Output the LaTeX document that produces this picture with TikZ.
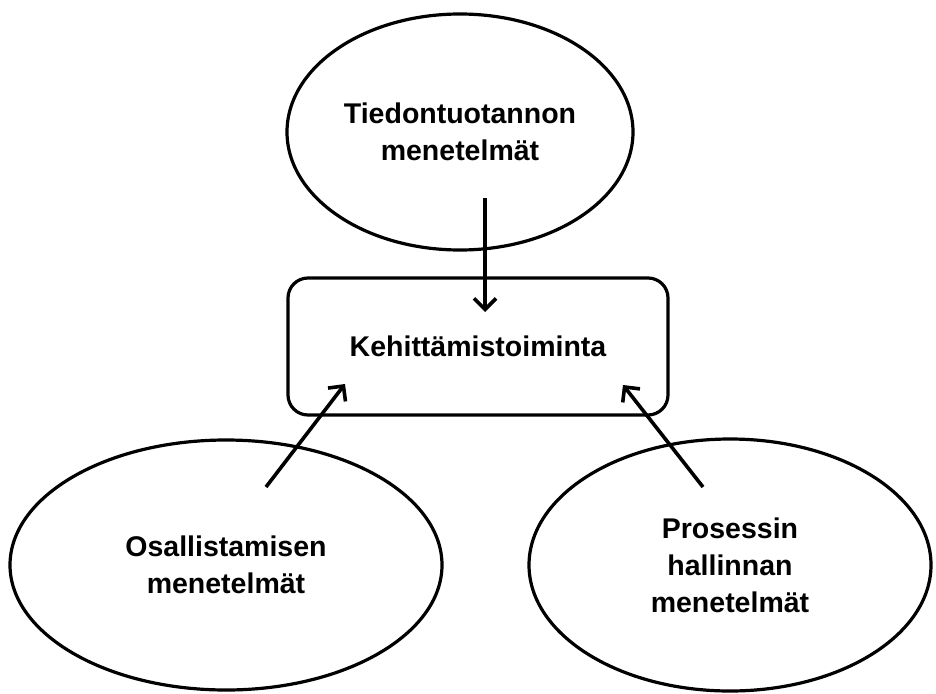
\documentclass[tikz,border=0pt]{standalone}
\usepackage{fontspec}
\setmainfont{Liberation Sans}
\usetikzlibrary{shapes.geometric,arrows.meta}
\begin{document}
\begin{tikzpicture}[x=1pt,y=-1pt,
  labelfont/.style={font=\fontsize{28.5}{37}\selectfont\bfseries},
  bubble/.style={draw, ellipse, line width=3.2pt, inner sep=0pt, align=center, labelfont},
  mainbox/.style={draw, rectangle, rounded corners=20pt, line width=3.2pt, inner sep=0pt, minimum width=380pt, minimum height=137pt, align=center, labelfont},
  conn/.style={-{Straight Barb[length=11pt,width=22pt]}, line width=3.6pt}]
\useasboundingbox (0,0) rectangle (936,693);
\node[bubble, minimum width=346pt, minimum height=236pt] (top) at (460,132) {Tiedontuotannon\\menetelmät};
\node[mainbox] (kehi) at (478,346.5) {Kehittämistoiminta};
\node[bubble, minimum width=432pt, minimum height=250pt] (left) at (226,565) {Osallistamisen\\menetelmät};
\node[bubble, minimum width=402pt, minimum height=252pt] (right) at (730,565) {Prosessin\\hallinnan\\menetelmät};
\coordinate (topstart) at (485,198);
\coordinate (topend) at (485,312);
\coordinate (leftstart) at (266,487);
\coordinate (leftend) at (345,384);
\coordinate (rightstart) at (703,487);
\coordinate (rightend) at (623,385);
\draw[conn] (topstart) -- (topend);
\draw[conn] (leftstart) -- (leftend);
\draw[conn] (rightstart) -- (rightend);
\end{tikzpicture}
\end{document}
